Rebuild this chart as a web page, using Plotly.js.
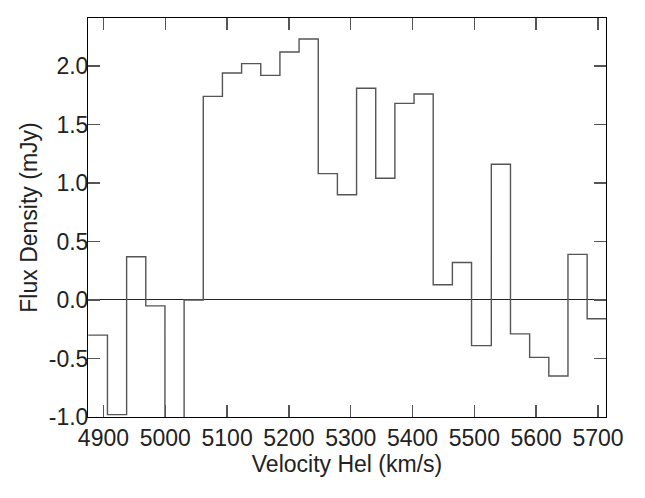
<!DOCTYPE html>
<html>
<head>
<meta charset="utf-8">
<script src="https://cdn.plot.ly/plotly-3.0.1.min.js"></script>
<style>
html, body {margin: 0; padding: 0; background: #fff;}
#plot {width: 645px; height: 498px;}
</style>
</head>
<body>
<div id="plot"></div>
<script>
// channel centres (km/s) and flux density per channel (mJy)
const velocity = [4891, 4922, 4953, 4984, 5015, 5046, 5077, 5108, 5139, 5170,
	5201, 5232, 5263, 5294, 5325, 5356, 5387, 5418, 5449, 5480,
	5511, 5543, 5574, 5605, 5636, 5667, 5698];
const flux = [-0.30, -0.98, 0.37, -0.05, -1.25, 0.00, 1.74, 1.94, 2.02, 1.92,
	2.12, 2.23, 1.08, 0.90, 1.81, 1.04, 1.68, 1.76, 0.13, 0.32,
	-0.39, 1.16, -0.29, -0.49, -0.65, 0.39, -0.16];
const channelWidth = 31.05;

const xTicks = [4900, 5000, 5100, 5200, 5300, 5400, 5500, 5600, 5700];
const yTicks = [-1.0, -0.5, 0.0, 0.5, 1.0, 1.5, 2.0];
const yTickText = ["-1.0", "-0.5", "0.0", "0.5", "1.0", "1.5", "2.0"];

const font = "Liberation Sans, Arial, Helvetica, sans-serif";

// step outline: left edge of each channel, plus the right edge of the last one
const stepX = velocity.map(v => v - channelWidth / 2);
stepX.push(velocity[velocity.length - 1] + channelWidth / 2);
const stepY = flux.slice();
stepY.push(flux[flux.length - 1]);

const trace = {
	x: stepX,
	y: stepY,
	type: "scatter",
	mode: "lines",
	line: {shape: "hv", color: "#555", width: 1.4},
	hoverinfo: "skip"
};

const axisCommon = {
	showgrid: false,
	showline: true,
	linecolor: "#000",
	linewidth: 1,
	mirror: "ticks",
	ticks: "inside",
	ticklen: 12,
	tickwidth: 1.4,
	tickcolor: "#555",
	tickfont: {family: font, size: 23, color: "#222"}
};

const layout = {
	width: 645,
	height: 498,
	margin: {l: 88, r: 39, t: 18, b: 81},
	paper_bgcolor: "#fff",
	plot_bgcolor: "#fff",
	showlegend: false,
	font: {family: font, color: "#222"},
	xaxis: Object.assign({}, axisCommon, {
		range: [4875, 5713],
		tickvals: xTicks,
		zeroline: false,
		title: {text: "Velocity Hel (km/s)", font: {family: font, size: 23, color: "#222"}, standoff: 0}
	}),
	yaxis: Object.assign({}, axisCommon, {
		range: [-1.0, 2.41],
		tickvals: yTicks,
		ticktext: yTickText,
		ticklabelstandoff: -6,
		zeroline: true,
		zerolinecolor: "#222",
		zerolinewidth: 1,
		title: {text: "Flux Density (mJy)", font: {family: font, size: 23, color: "#222"}, standoff: 4}
	})
};

Plotly.newPlot("plot", [trace], layout, {displayModeBar: false, staticPlot: true});
</script>
</body>
</html>
